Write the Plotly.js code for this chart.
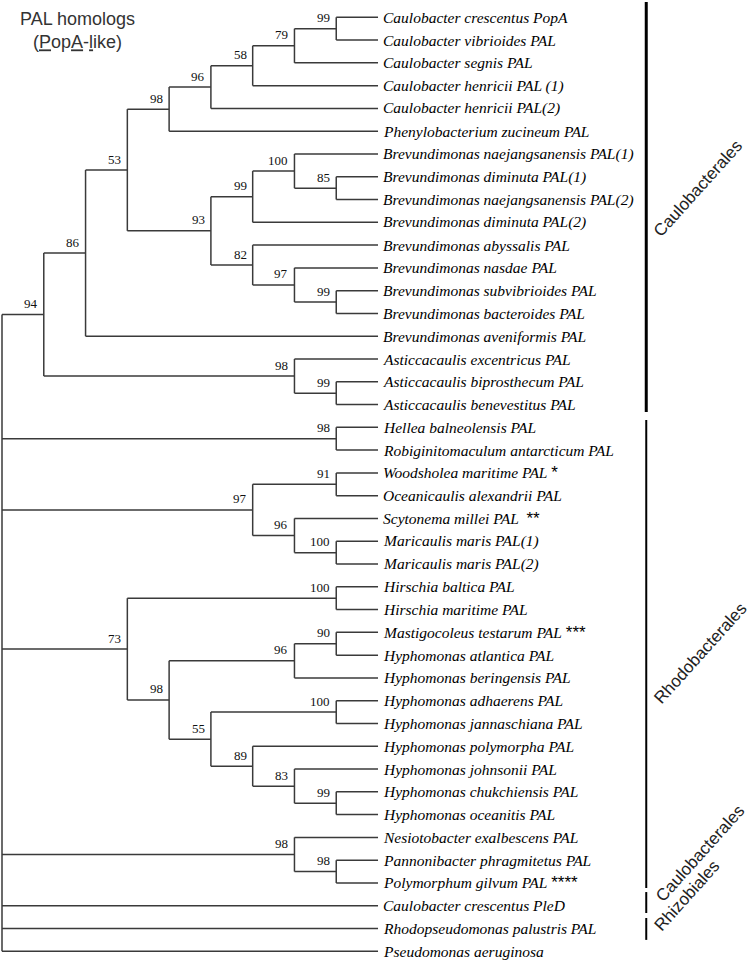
<!DOCTYPE html>
<html>
<head>
<meta charset="utf-8">
<script src="https://cdn.plot.ly/plotly-3.0.1.min.js"></script>
<style>html,body{margin:0;padding:0;background:#fff;}#chart{width:750px;height:964px;}</style>
</head>
<body>
<div id="chart"></div>
<script>
// ---------------- DATA ----------------
const taxa = [
  "Caulobacter crescentus PopA",
  "Caulobacter vibrioides PAL",
  "Caulobacter segnis PAL",
  "Caulobacter henricii PAL (1)",
  "Caulobacter henricii PAL(2)",
  "Phenylobacterium zucineum PAL",
  "Brevundimonas naejangsanensis PAL(1)",
  "Brevundimonas diminuta PAL(1)",
  "Brevundimonas naejangsanensis PAL(2)",
  "Brevundimonas diminuta PAL(2)",
  "Brevundimonas abyssalis PAL",
  "Brevundimonas nasdae PAL",
  "Brevundimonas subvibrioides PAL",
  "Brevundimonas bacteroides PAL",
  "Brevundimonas aveniformis PAL",
  "Asticcacaulis excentricus PAL",
  "Asticcacaulis biprosthecum PAL",
  "Asticcacaulis benevestitus PAL",
  "Hellea balneolensis PAL",
  "Robiginitomaculum antarcticum PAL",
  "Woodsholea maritime PAL",
  "Oceanicaulis alexandrii PAL",
  "Scytonema millei PAL",
  "Maricaulis maris PAL(1)",
  "Maricaulis maris PAL(2)",
  "Hirschia baltica PAL",
  "Hirschia maritime PAL",
  "Mastigocoleus testarum PAL",
  "Hyphomonas atlantica PAL",
  "Hyphomonas beringensis PAL",
  "Hyphomonas adhaerens PAL",
  "Hyphomonas jannaschiana PAL",
  "Hyphomonas polymorpha PAL",
  "Hyphomonas johnsonii PAL",
  "Hyphomonas chukchiensis PAL",
  "Hyphomonas oceanitis PAL",
  "Nesiotobacter exalbescens PAL",
  "Pannonibacter phragmitetus PAL",
  "Polymorphum gilvum PAL",
  "Caulobacter crescentus PleD",
  "Rhodopseudomonas palustris PAL",
  "Pseudomonas aeruginosa"
];
// footnote marks appended to some taxa
const markTaxon = [20, 22, 27, 38];
const markText  = ["*", "**", "***", "****"];

// tree topology (leaf = index into taxa), bootstrap support after ")"
const topology =
  "(((((((((0,1)99,2)79,3)58,4)96,5)98,(((6,(7,8)85)100,9)99,(10,(11,(12,13)99)97)82)93)53,14)86,(15,(16,17)99)98)94," +
  "(18,19)98," +
  "((20,21)91,(22,(23,24)100)96)97," +
  "((25,26)100,(((27,28)90,29)96,((30,31)100,(32,(33,(34,35)99)83)89)55)98)73," +
  "(36,(37,38)98)98," +
  "39,40,41)";

// clade bars on the right
const cladeNames = ["Caulobacterales", "Rhodobacterales", "Caulobacterales", "Rhizobiales"];
const cladeFirst = [0, 18, 39, 40];
const cladeLast  = [17, 38, 39, 40];

const titleLines = ["PAL homologs", "(PopA-like)"];

// ---------------- TREE PARSING / LAYOUT ----------------
function parseNewick(s) {
  let i = 0;
  function node() {
    if (s[i] === "(") {
      i++;
      const children = [];
      while (i < s.length) {
        children.push(node());
        if (s[i] === ",") { i++; continue; }
        if (s[i] === ")") { i++; break; }
        break;
      }
      let lab = "";
      while (i < s.length && /[0-9]/.test(s[i])) lab += s[i++];
      return { children: children, support: lab };
    } else {
      let lab = "";
      while (i < s.length && /[0-9]/.test(s[i])) lab += s[i++];
      return { leaf: parseInt(lab, 10) };
    }
  }
  return node();
}
const root = parseNewick(topology);
function height(n) {
  if (n.children === undefined) return (n.h = 0);
  n.h = 1 + Math.max.apply(null, n.children.map(height));
  return n.h;
}
const H = height(root);
function place(n) {
  n.x = H - n.h;
  if (n.children === undefined) { n.y = n.leaf; return; }
  n.children.forEach(place);
  n.y = (n.children[0].y + n.children[n.children.length - 1].y) / 2;
}
place(root);

const serif = "'Liberation Serif', 'Times New Roman', Times, serif";
const sans = "'Liberation Sans', Arial, Helvetica, sans-serif";

const lx = [], ly = [];
const annotations = [];
const supportFont = { family: serif, size: 13, color: "#111" };
function walk(n) {
  if (n.children === undefined) return;
  const first = n.children[0], last = n.children[n.children.length - 1];
  lx.push(n.x, n.x, null); ly.push(first.y, last.y, null);
  n.children.forEach(function (c) {
    lx.push(n.x, c.x, null); ly.push(c.y, c.y, null);
    walk(c);
  });
  if (n.support) {
    annotations.push({ x: n.x, y: n.y, xref: "x", yref: "y", text: n.support, showarrow: false,
      xanchor: "right", yanchor: "middle", xshift: -4, yshift: 11, font: supportFont });
  }
}
walk(root);

// taxon labels
taxa.forEach(function (t, k) {
  let txt = "<i>" + t + "</i>";
  const m = markTaxon.indexOf(k);
  if (m >= 0) {
    const sp = (markText[m] === "**") ? "&nbsp;&nbsp;" : "&nbsp;";
    txt += sp + '<span style="font-family:' + sans.replace(/'/g, "") + ';font-size:17px">' + markText[m] + "</span>";
  }
  annotations.push({ x: H, y: k, xref: "x", yref: "y", text: txt, showarrow: false,
    xanchor: "left", yanchor: "middle", xshift: 3, yshift: 0,
    font: { family: serif, size: 15.5, color: "#000" } });
});

// clade bars
const barX = 15.42;
const padTop = [0.67, 0.32, 0.60, 0.46];
const padBot = [0.33, 0.22, 0.32, 0.50];
const barTraces = [];
cladeNames.forEach(function (name, k) {
  barTraces.push({ x: [barX, barX], y: [cladeFirst[k] - padTop[k], cladeLast[k] + padBot[k]],
    mode: "lines", type: "scatter",
    line: { color: "#000", width: k === 0 ? 3 : 2 }, hoverinfo: "skip" });
});
const cladeLabelShift = [[52, 22], [54, 2], [54, 52], [41, 33]];
cladeNames.forEach(function (name, k) {
  annotations.push({ x: barX, y: (cladeFirst[k] + cladeLast[k]) / 2, xref: "x", yref: "y",
    text: name, showarrow: false, textangle: -48, xanchor: "center", yanchor: "middle",
    xshift: cladeLabelShift[k][0], yshift: cladeLabelShift[k][1],
    font: { family: sans, size: 17, color: "#222" } });
});

// title
const titleText = titleLines[0] + "<br>" +
  '(<span style="text-decoration:underline">P</span>op<span style="text-decoration:underline">A</span>-<span style="text-decoration:underline">l</span>ike)';
annotations.push({ x: 0.103, y: 1 - 31 / 964, xref: "paper", yref: "paper", text: titleText, showarrow: false,
  xanchor: "center", yanchor: "middle", align: "center",
  font: { family: sans, size: 18, color: "#333" } });

const treeTrace = { x: lx, y: ly, mode: "lines", type: "scatter",
  line: { color: "#3a3a3a", width: 1.5 }, hoverinfo: "skip", connectgaps: false };

const pxStep = 41.78, pxX0 = 2, rowStep = 22.78, rowY0 = 17.3;
const layout = {
  width: 750, height: 964,
  margin: { l: 0, r: 0, t: 0, b: 0, pad: 0 },
  paper_bgcolor: "#fff", plot_bgcolor: "#fff",
  showlegend: false,
  xaxis: { range: [-pxX0 / pxStep, (750 - pxX0) / pxStep], visible: false, fixedrange: true },
  yaxis: { range: [(964 - rowY0) / rowStep, -rowY0 / rowStep], visible: false, fixedrange: true },
  annotations: annotations
};
Plotly.newPlot("chart", [treeTrace].concat(barTraces), layout, { displayModeBar: false, staticPlot: true });
</script>
</body>
</html>
